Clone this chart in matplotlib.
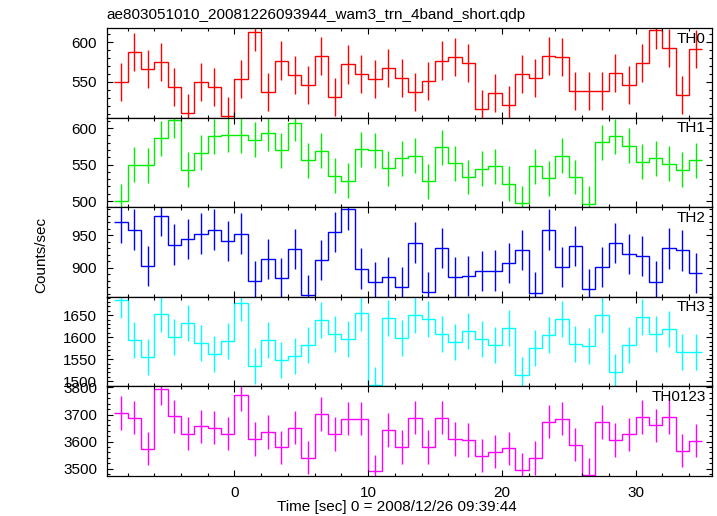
import numpy as np
import matplotlib
matplotlib.use('Agg')
import matplotlib.pyplot as plt
from matplotlib.ticker import MultipleLocator

plt.rcParams['font.family'] = ['Liberation Sans', 'DejaVu Sans']
plt.rcParams['font.size'] = 11

title = "ae803051010_20081226093944_wam3_trn_4band_short.qdp"
xlabel = "Time [sec] 0 = 2008/12/26 09:39:44"
ylabel = "Counts/sec"

# time bins (1 s wide)
bin_edges = np.arange(-9, 36, 1.0)

# count rates
th0 = [550, 588, 566, 575, 544, 511, 550, 544, 507, 554,
       613, 537, 577, 559, 546, 583, 531, 572, 560, 554,
       567, 555, 537, 551, 577, 582, 574, 516, 536, 521,
       560, 555, 583, 581, 539, 538, 539, 561, 546, 574,
       616, 593, 534, 591]
th1 = [500, 550, 549, 586, 611, 543, 566, 589, 591, 590,
       584, 593, 570, 607, 556, 569, 535, 528, 571, 570,
       545, 559, 562, 527, 574, 552, 533, 544, 548, 524,
       497, 548, 531, 562, 533, 496, 581, 589, 576, 554,
       559, 551, 543, 556]
th2 = [970, 959, 903, 980, 936, 944, 953, 959, 942, 953,
       880, 914, 885, 929, 858, 912, 955, 990, 899, 878,
       886, 871, 939, 863, 931, 886, 888, 895, 896, 908,
       928, 862, 959, 901, 934, 868, 901, 938, 922, 918,
       879, 930, 927, 892]
th3 = [1685, 1593, 1554, 1654, 1601, 1632, 1586, 1561, 1591, 1677,
       1534, 1593, 1548, 1558, 1582, 1640, 1607, 1595, 1656, 1491,
       1643, 1598, 1650, 1641, 1607, 1590, 1614, 1596, 1583, 1621,
       1514, 1575, 1604, 1641, 1585, 1580, 1650, 1520, 1583, 1645,
       1607, 1618, 1566, 1567]
th0123 = [3705, 3689, 3574, 3796, 3693, 3630, 3656, 3652, 3630, 3774,
          3609, 3636, 3579, 3652, 3541, 3702, 3628, 3685, 3685, 3490,
          3642, 3581, 3689, 3580, 3689, 3609, 3607, 3548, 3563, 3575,
          3496, 3540, 3674, 3685, 3589, 3478, 3672, 3607, 3627, 3691,
          3660, 3691, 3567, 3604]

names = ["TH0", "TH1", "TH2", "TH3", "TH0123"]
series = [th0, th1, th2, th3, th0123]
errors = [24, 24, 31, 41, 62]
colors = ["#ff0000", "#00ee00", "#0000ff", "#00ffff", "#ff00ff"]
ylims = [(505, 618), (491.5, 614.5), (855.5, 993.5), (1488, 1692), (3473, 3804)]
major = [50, 50, 50, 50, 100]
minor = [10, 10, 10, 10, 20]

fig = plt.figure(figsize=(7.17, 5.16), dpi=100)
left, right = 0.149, 0.9926
bottom, top = 0.0775, 0.9457
h = (top - bottom) / 5
centers = (bin_edges[:-1] + bin_edges[1:]) / 2

for i in range(5):
    ax = fig.add_axes([left, top - (i + 1) * h, right - left, h])
    ax.stairs(series[i], bin_edges, baseline=None, color=colors[i], lw=1.0)
    ax.errorbar(centers, series[i], yerr=errors[i], fmt='none',
                ecolor=colors[i], elinewidth=1.0)
    ax.set_xlim(-9.55, 35.7)
    ax.set_ylim(*ylims[i])
    ax.xaxis.set_major_locator(MultipleLocator(10))
    ax.xaxis.set_minor_locator(MultipleLocator(2))
    ax.yaxis.set_major_locator(MultipleLocator(major[i]))
    ax.yaxis.set_minor_locator(MultipleLocator(minor[i]))
    ax.tick_params(which='both', direction='in', top=True, right=True,
                   width=0.8, labelsize=11)
    ax.tick_params(which='major', length=4, pad=7)
    ax.tick_params(which='minor', length=2)
    for s in ax.spines.values():
        s.set_linewidth(0.9)
    if i < 4:
        ax.tick_params(labelbottom=False)
    ax.text(0.99, 0.96, names[i], transform=ax.transAxes,
            ha='right', va='top', fontsize=11)

fig.text(0.149, 1 - 15.5 / 516, title, ha='left', va='center', fontsize=11)
fig.text(397 / 717, 1 - 507 / 516, xlabel, ha='center', va='center', fontsize=11)
fig.text(41 / 717, 1 - 255 / 516, ylabel, ha='center', va='center',
         rotation=90, fontsize=11)

fig.savefig("out.png", dpi=100)
